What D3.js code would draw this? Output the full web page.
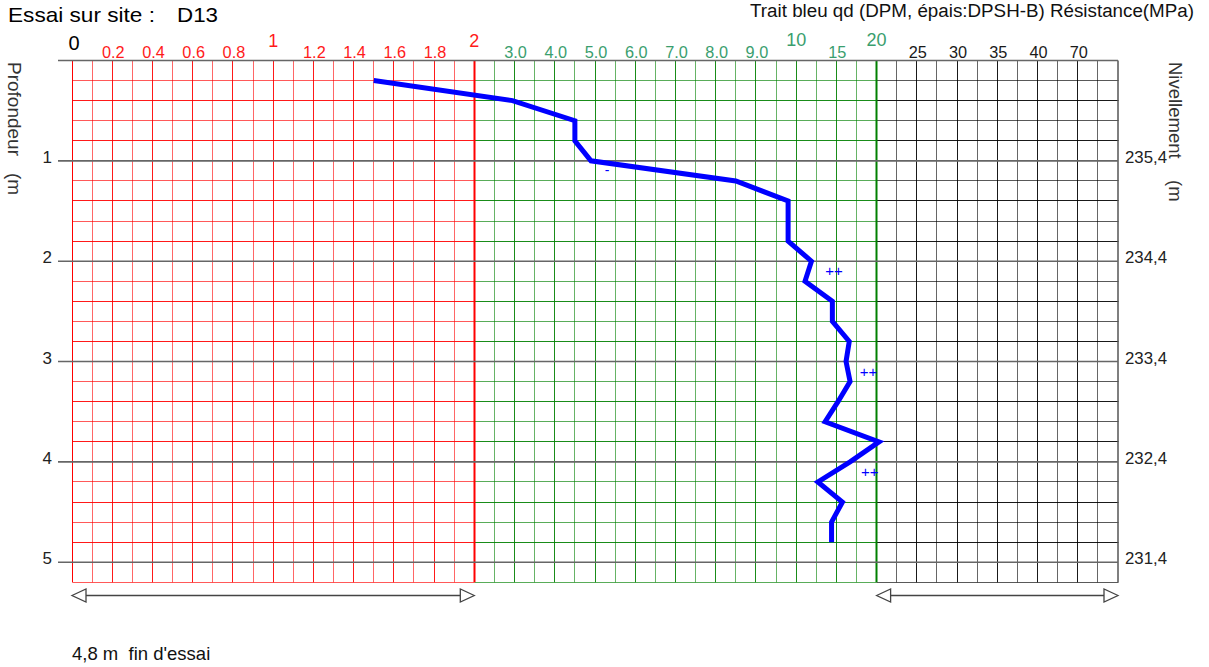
<!DOCTYPE html>
<html>
<head>
<meta charset="utf-8">
<script src="https://cdn.jsdelivr.net/npm/d3@7"></script>
<style>
  html, body { margin: 0; padding: 0; background: #fff; }
  svg { display: block; font-family: "Liberation Sans", Arial, sans-serif; }
  text { white-space: pre; }
</style>
</head>
<body>
<svg id="chart" width="1209" height="667"></svg>
<script>
// ---------------- DATA ----------------
const depths = [0.2, 0.4, 0.6, 0.8, 1.0, 1.2, 1.4, 1.6, 1.8, 2.0, 2.2, 2.4, 2.6, 2.8, 3.0, 3.2, 3.4, 3.6, 3.8, 4.0, 4.2, 4.4, 4.6, 4.8];
const qd     = [1.5, 2.95, 4.5, 4.5, 4.9, 8.5, 9.8, 9.8, 9.8, 11.9, 11.1, 14.5, 14.5, 16.6, 16.2, 16.7, 15.2, 13.6, 20.3, 16.7, 12.7, 15.75, 14.4, 14.4];

// piecewise resistance scale: break values and their column index on the grid
const scaleBreaks = [0, 2, 3, 4, 5, 6, 7, 8, 9, 10, 15, 20, 25, 30, 35, 40, 70];
const scaleCols   = [0, 20, 22, 24, 26, 28, 30, 32, 34, 36, 38, 40, 42, 44, 46, 48, 50];

const majorTopTicks = [0, 1, 2, 10, 20];
const majorTopLabels = ["0", "1", "2", "10", "20"];
const minorTopTicks = [0.2, 0.4, 0.6, 0.8, 1.2, 1.4, 1.6, 1.8, 3, 4, 5, 6, 7, 8, 9, 15, 25, 30, 35, 40, 70];
const minorTopLabels = ["0.2", "0.4", "0.6", "0.8", "1.2", "1.4", "1.6", "1.8", "3.0", "4.0", "5.0", "6.0", "7.0", "8.0", "9.0", "15", "25", "30", "35", "40", "70"];

const depthTicks = [1, 2, 3, 4, 5];
const depthLabels = ["1", "2", "3", "4", "5"];
const nivLabels = ["235,4", "234,4", "233,4", "232,4", "231,4"];

const plusDepths = [2.1, 3.1, 4.1];
const plusValues = [14.7, 19.0, 19.15];
const minusDepths = [1.1];
const minusValues = [5.3];

const titleLeft = "Essai sur site :";
const titleSite = "D13";
const titleRight = "Trait bleu qd (DPM, épais:DPSH-B) Résistance(MPa)";
const leftAxisTitle = "Profondeur";
const rightAxisTitle = "Nivellement";
const unitTitle = "(m";
const footer = "4,8 m  fin d'essai";

// ---------------- LAYOUT ----------------
const svg = d3.select("#chart");
const x0 = 72, x1 = 1118, nCols = 52;
const colW = (x1 - x0) / nCols;
const yTop = 60.5, yBot = 582.3, maxDepth = 5.2;

const x = d3.scaleLinear().domain(scaleBreaks).range(scaleCols.map(c => x0 + c * colW));
const y = d3.scaleLinear().domain([0, maxDepth]).range([yTop, yBot]);
const crisp = v => Math.round(v - 0.5) + 0.5;
const colX = c => crisp(x0 + c * colW);
const rowY = d => crisp(y(d));

const RED = "#ff0000", GREEN = "#008000", BLACK = "#000000", GRAY = "#666666";
const sections = [
  { c0: 0, c1: 20, color: RED },
  { c0: 20, c1: 40, color: GREEN },
  { c0: 40, c1: 52, color: BLACK }
];

const grid = svg.append("g");
// horizontal minor rows (every 0.2 m) by section
const rows = d3.range(1, Math.round(maxDepth / 0.2) + 1).map(i => +(i * 0.2).toFixed(1));
sections.forEach(s => {
  grid.append("g").selectAll("line")
    .data(rows.filter(d => Math.abs(d - Math.round(d)) > 1e-6 || d > 5.1))
    .join("line")
    .attr("x1", colX(s.c0)).attr("x2", colX(s.c1))
    .attr("y1", d => rowY(d)).attr("y2", d => rowY(d))
    .attr("stroke", s.color).attr("stroke-width", 1)
    .attr("stroke-opacity", (d, i) => i % 2 === 0 ? 0.65 : 0.9);
});
// vertical column lines
d3.range(0, nCols).forEach(c => {
  let color = c <= 20 ? RED : (c <= 40 ? GREEN : BLACK);
  let w = (c === 20 || c === 40) ? 2 : 1;
  let op = (c === 20 || c === 40 || c === 0) ? 1 : (c % 2 === 0 ? 0.9 : 0.6);
  grid.append("line")
    .attr("x1", colX(c)).attr("x2", colX(c))
    .attr("y1", yTop).attr("y2", yBot)
    .attr("stroke", color).attr("stroke-width", w).attr("stroke-opacity", op);
});
// right border
grid.append("line").attr("x1", x1).attr("x2", x1).attr("y1", yTop).attr("y2", yBot)
  .attr("stroke", "#555").attr("stroke-width", 1.5);
// major depth lines (gray), incl. top
grid.append("g").selectAll("line").data([0].concat(depthTicks)).join("line")
  .attr("x1", 58).attr("x2", x1)
  .attr("y1", d => y(d)).attr("y2", d => y(d))
  .attr("stroke", GRAY).attr("stroke-width", 1.6);

// ---------------- AXIS TEXT ----------------
const labelColor = v => v <= 2 ? "#ff1a1a" : (v <= 20 ? "#3a9e6e" : "#1a1a1a");
svg.append("g").selectAll("text").data(majorTopTicks).join("text")
  .attr("x", d => x(d) + (d === 0 ? 2 : 0))
  .attr("y", d => d === 0 ? 49.5 : (d >= 10 ? 45.5 : 46.5))
  .attr("text-anchor", "middle")
  .attr("font-size", d => d === 0 ? 20 : 18)
  .attr("fill", d => d === 0 ? "#000" : labelColor(d))
  .text((d, i) => majorTopLabels[i]);
svg.append("g").selectAll("text").data(minorTopTicks).join("text")
  .attr("x", d => x(d) + 1)
  .attr("y", 57.5)
  .attr("text-anchor", "middle")
  .attr("font-size", 16.3)
  .attr("fill", d => labelColor(d))
  .text((d, i) => minorTopLabels[i]);

svg.append("g").selectAll("text").data(depthTicks).join("text")
  .attr("x", 52).attr("y", d => y(d) + 2)
  .attr("text-anchor", "end").attr("font-size", 17).attr("fill", "#222")
  .text((d, i) => depthLabels[i]);
svg.append("g").selectAll("text").data(depthTicks).join("text")
  .attr("x", 1125).attr("y", d => y(d) + 2)
  .attr("text-anchor", "start").attr("font-size", 16.8).attr("fill", "#222")
  .text((d, i) => nivLabels[i]);

// axis titles (rotated)
const lt = svg.append("g").attr("transform", "translate(8,62) rotate(90)");
lt.append("text").attr("x", 0).attr("y", 0).attr("font-size", 19).attr("fill", "#333").text(leftAxisTitle);
lt.append("text").attr("x", 111).attr("y", 0).attr("font-size", 19).attr("fill", "#333").text(unitTitle);
const rt = svg.append("g").attr("transform", "translate(1169,62) rotate(90)");
rt.append("text").attr("x", 0).attr("y", 0).attr("font-size", 18.5).attr("fill", "#333").text(rightAxisTitle);
rt.append("text").attr("x", 118).attr("y", 0).attr("font-size", 18.5).attr("fill", "#333").text(unitTitle);

// titles
svg.append("text").attr("x", 8).attr("y", 21.7).attr("font-size", 21).attr("fill", "#000")
  .attr("textLength", 147).attr("lengthAdjust", "spacingAndGlyphs").text(titleLeft);
svg.append("text").attr("x", 177).attr("y", 21.7).attr("font-size", 21).attr("fill", "#000")
  .attr("textLength", 41).attr("lengthAdjust", "spacingAndGlyphs").text(titleSite);
svg.append("text").attr("x", 1194).attr("y", 17).attr("text-anchor", "end").attr("font-size", 18.8).attr("fill", "#111").text(titleRight);
svg.append("text").attr("x", 72).attr("y", 660).attr("font-size", 18.5).attr("fill", "#111").text(footer);

// ---------------- ARROWS ----------------
function arrow(xa, xb, yy) {
  const g = svg.append("g").attr("stroke", "#444").attr("stroke-width", 1.3).attr("fill", "#fff");
  g.append("line").attr("x1", xa + 13).attr("x2", xb - 13).attr("y1", yy).attr("y2", yy);
  g.append("path").attr("d", `M${xa},${yy} L${xa + 14},${yy - 6.5} L${xa + 14},${yy + 6.5} Z`);
  g.append("path").attr("d", `M${xb},${yy} L${xb - 14},${yy - 6.5} L${xb - 14},${yy + 6.5} Z`);
}
arrow(x0, x(2), 595.5);
arrow(x(20), x1, 595.5);

// ---------------- CURVE ----------------
const pts = depths.map((d, i) => [x(qd[i]), y(d)]);
svg.append("path")
  .attr("d", d3.line()(pts))
  .attr("fill", "none").attr("stroke", "#0000ff").attr("stroke-width", 5)
  .attr("stroke-linejoin", "miter");

svg.append("g").selectAll("text").data(plusDepths).join("text")
  .attr("x", (d, i) => x(plusValues[i])).attr("y", d => y(d) + 5)
  .attr("text-anchor", "middle").attr("font-size", 15).attr("fill", "#0000ff")
  .text("++");
svg.append("g").selectAll("text").data(minusDepths).join("text")
  .attr("x", (d, i) => x(minusValues[i])).attr("y", d => y(d) + 4.5)
  .attr("text-anchor", "middle").attr("font-size", 14).attr("fill", "#0000ff")
  .text("-");
</script>
</body>
</html>
